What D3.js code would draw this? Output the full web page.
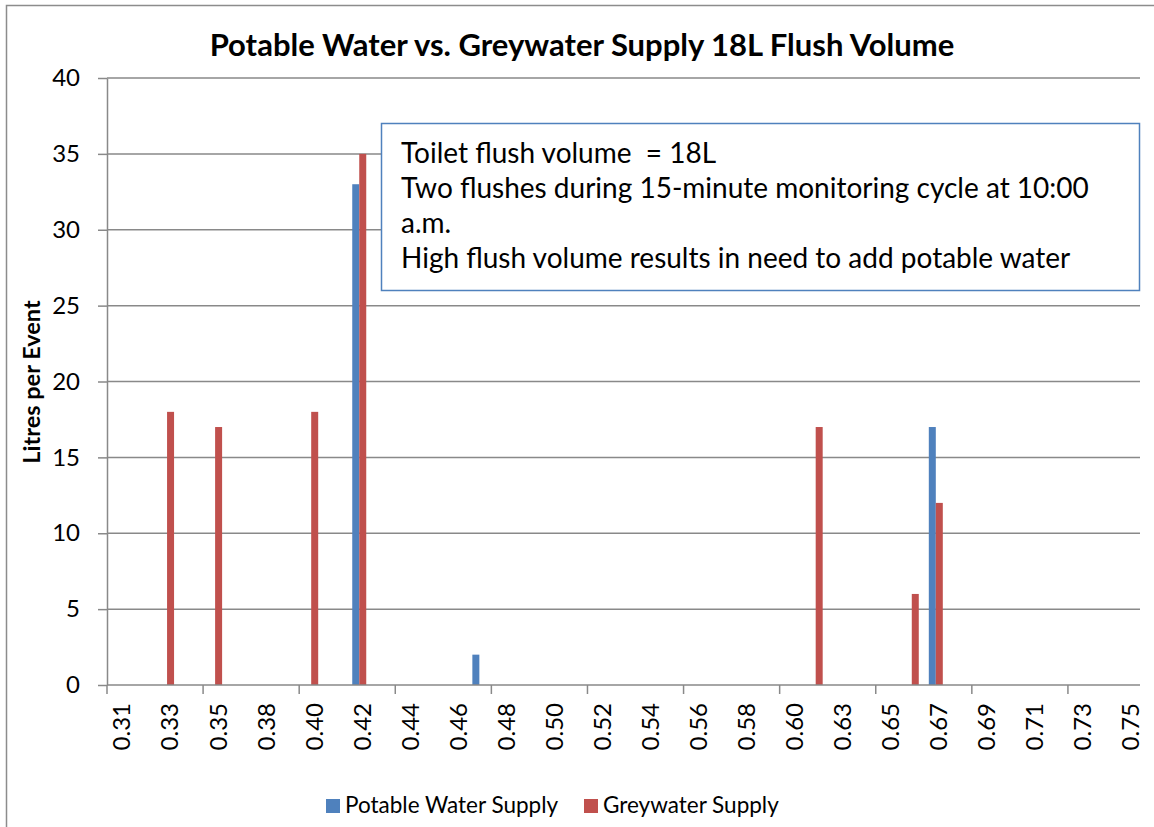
<!DOCTYPE html>
<html>
<head>
<meta charset="utf-8">
<script src="https://cdn.jsdelivr.net/npm/d3@7"></script>
<style>
  body { margin: 0; background: #fff; }
  svg { display: block; }
  text { font-family: Lato, "Open Sans", sans-serif; fill: #000; }
</style>
</head>
<body>
<svg id="chart" width="1154" height="827"></svg>
<script>
// 15-minute monitoring cycles, time of day as fraction of a day
const categories = [0.3125, 0.3229, 0.3333, 0.3438, 0.3542, 0.3646, 0.375, 0.3854, 0.3958, 0.4063,
  0.4167, 0.4271, 0.4375, 0.4479, 0.4583, 0.4688, 0.4792, 0.4896, 0.5, 0.5104,
  0.5208, 0.5313, 0.5417, 0.5521, 0.5625, 0.5729, 0.5833, 0.5938, 0.6042, 0.6146,
  0.625, 0.6354, 0.6458, 0.6563, 0.6667, 0.6771, 0.6875, 0.6979, 0.7083, 0.7188,
  0.7292, 0.7396, 0.75]

// labels shown on every second category
const tickLabels = ["0.31", "0.33", "0.35", "0.38", "0.40", "0.42", "0.44", "0.46", "0.48", "0.50", "0.52",
  "0.54", "0.56", "0.58", "0.60", "0.63", "0.65", "0.67", "0.69", "0.71", "0.73", "0.75"]

const potable = [0, 0, 0, 0, 0, 0, 0, 0, 0, 0,
  33, 0, 0, 0, 0, 2, 0, 0, 0, 0,
  0, 0, 0, 0, 0, 0, 0, 0, 0, 0,
  0, 0, 0, 0, 17, 0, 0, 0, 0, 0,
  0, 0, 0]

const greywater = [0, 0, 18, 0, 17, 0, 0, 0, 18, 0,
  35, 0, 0, 0, 0, 0, 0, 0, 0, 0,
  0, 0, 0, 0, 0, 0, 0, 0, 0, 17,
  0, 0, 0, 6, 12, 0, 0, 0, 0, 0,
  0, 0, 0]

const seriesNames = ["Potable Water Supply", "Greywater Supply"]
const seriesColors = ["#4F81BD", "#C0504D"]
const yTicks = [0, 5, 10, 15, 20, 25, 30, 35, 40]

const noteLines = [
  "Toilet flush volume  = 18L",
  "Two flushes during 15-minute monitoring cycle at 10:00",
  "a.m.",
  "High flush volume results in need to add potable water"
]

const title = "Potable Water vs. Greywater Supply 18L Flush Volume"
const yTitle = "Litres per Event"

// layout
const plot = {left: 107, right: 1140, top: 78, bottom: 685}
const gridColor = "#898989"

const rows = categories.map(function(c, i) {
  return {cat: c, values: [potable[i], greywater[i]]}
})

const svg = d3.select("#chart")

// chart area border (only left and top visible in the crop)
svg.append("path")
  .attr("d", "M6.5,827 V5.5 H1154")
  .attr("fill", "none")
  .attr("stroke", "#8c8c8c")
  .attr("stroke-width", 1.5)

// scales
const x = d3.scaleBand()
  .domain(categories)
  .range([plot.left, plot.right])

const groupW = 14
const x1 = d3.scaleBand()
  .domain(seriesNames)
  .range([0, groupW])

const y = d3.scaleLinear()
  .domain([0, 40])
  .range([plot.bottom, plot.top])

// gridlines + y axis
const yAxis = svg.append("g")
  .attr("transform", "translate(" + plot.left + ",0)")
  .call(d3.axisLeft(y).tickValues(yTicks).tickSize(9).tickPadding(18).tickSizeOuter(0))
yAxis.select(".domain").attr("stroke", gridColor).attr("stroke-width", 1.5)
yAxis.selectAll(".tick line").attr("stroke", gridColor).attr("stroke-width", 1.5)
yAxis.selectAll(".tick text")
  .attr("font-size", 24)
  .attr("font-family", "Lato, sans-serif")
  .attr("fill", "#000")

svg.append("g")
  .selectAll("line")
  .data(yTicks.filter(function(d) { return d > 0 }))
  .join("line")
    .attr("x1", plot.left)
    .attr("x2", plot.right)
    .attr("y1", function(d) { return y(d) })
    .attr("y2", function(d) { return y(d) })
    .attr("stroke", gridColor)
    .attr("stroke-width", 1.5)

// bars
const groups = svg.append("g")
  .selectAll("g")
  .data(rows)
  .join("g")
    .attr("transform", function(d) {
      return "translate(" + (x(d.cat) + (x.bandwidth() - groupW) / 2) + ",0)"
    })

groups.selectAll("rect")
  .data(function(d) {
    return d.values.map(function(v, j) { return {name: seriesNames[j], value: v, color: seriesColors[j]} })
  })
  .join("rect")
    .attr("x", function(d) { return x1(d.name) })
    .attr("y", function(d) { return y(d.value) })
    .attr("width", x1.bandwidth())
    .attr("height", function(d) { return y(0) - y(d.value) })
    .attr("fill", function(d) { return d.color })

// x axis: baseline, tick marks every 4 categories, labels every 2
svg.append("line")
  .attr("x1", plot.left).attr("x2", plot.right)
  .attr("y1", plot.bottom).attr("y2", plot.bottom)
  .attr("stroke", gridColor).attr("stroke-width", 1.5)

svg.append("g")
  .selectAll("line")
  .data(categories.filter(function(d, i) { return i % 4 === 0 }))
  .join("line")
    .attr("x1", function(d) { return x(d) })
    .attr("x2", function(d) { return x(d) })
    .attr("y1", plot.bottom)
    .attr("y2", plot.bottom + 9)
    .attr("stroke", gridColor)
    .attr("stroke-width", 1.5)

const labelCats = categories.filter(function(d, i) { return i % 2 === 0 })
svg.append("g")
  .selectAll("text")
  .data(labelCats)
  .join("text")
    .attr("transform", function(d) {
      return "translate(" + (x(d) + x.bandwidth() / 2 + 3) + "," + (plot.bottom + 18) + ") rotate(-90)"
    })
    .attr("text-anchor", "end")
    .attr("dy", "0.35em")
    .attr("font-size", 24)
    .text(function(d, i) { return tickLabels[i] })

// titles
svg.append("text")
  .attr("x", 582)
  .attr("y", 56)
  .attr("text-anchor", "middle")
  .attr("font-size", 31)
  .attr("font-weight", "bold")
  .text(title)

svg.append("text")
  .attr("transform", "translate(40,382) rotate(-90)")
  .attr("text-anchor", "middle")
  .attr("font-size", 23.5)
  .attr("font-weight", "bold")
  .text(yTitle)

// note box
svg.append("rect")
  .attr("x", 381.5).attr("y", 123.5)
  .attr("width", 758).attr("height", 167)
  .attr("fill", "#fff")
  .attr("stroke", "#4F81BD")
  .attr("stroke-width", 1.5)

svg.append("g")
  .selectAll("text")
  .data(noteLines)
  .join("text")
    .attr("x", 401)
    .attr("y", function(d, i) { return 163 + i * 35 })
    .attr("font-size", 28)
    .style("white-space", "pre")
    .text(function(d) { return d })

// legend
const legendX = [326, 584]
const legend = svg.append("g")
  .selectAll("g")
  .data(seriesNames)
  .join("g")
    .attr("transform", function(d, i) { return "translate(" + legendX[i] + ",799)" })
legend.append("rect")
  .attr("width", 14).attr("height", 14)
  .attr("fill", function(d, i) { return seriesColors[i] })
legend.append("text")
  .attr("x", 19)
  .attr("y", 14)
  .attr("font-size", 22.5)
  .text(function(d) { return d })
</script>
</body>
</html>
